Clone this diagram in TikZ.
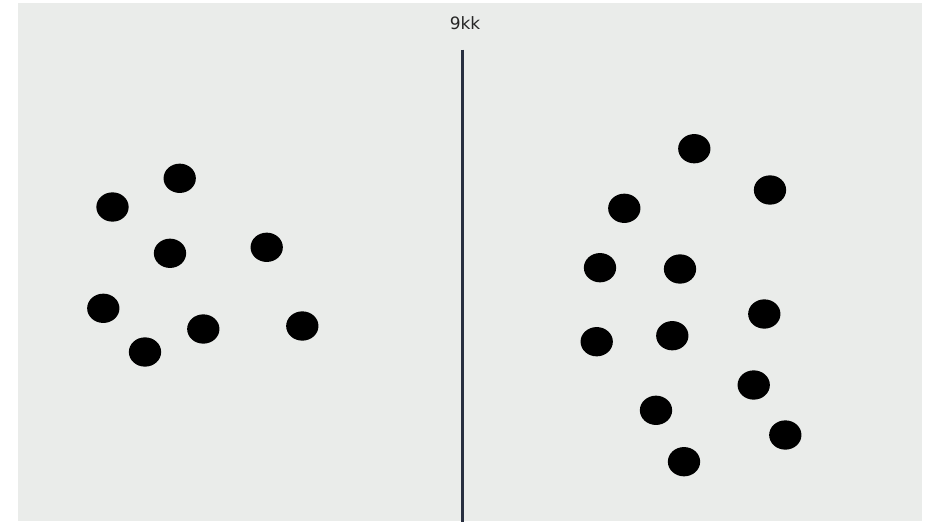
\documentclass[tikz,border=0pt]{standalone}
\usepackage{fontspec}
\setmainfont{DejaVu Sans}
\usetikzlibrary{shapes.geometric}
\definecolor{bgpanel}{RGB}{234,236,234}
\definecolor{divider}{RGB}{40,47,64}
\tikzset{
  dot/.style={ellipse, fill=black, minimum width=32.3pt, minimum height=29.3pt, inner sep=0pt},
  dividerline/.style={draw=divider, line width=3.4pt},
  title/.style={font=\fontsize{17}{20}\selectfont, text=black!85, inner sep=0pt}
}
\begin{document}
\begin{tikzpicture}[x=1pt,y=-1pt]
\useasboundingbox (0,0) rectangle (933,522);
\fill[bgpanel] (18,3) rectangle (922,521);
% divider
\coordinate (divtop) at (462.5,49.5);
\coordinate (divbot) at (462.5,522);
\draw[dividerline] (divtop) -- (divbot);
% title
\node[title, anchor=base] (lbl) at (465,29.3) {9kk};
% left group
\node[dot] (l1) at (179.7,178.3) {};
\node[dot] (l2) at (112.5,207) {};
\node[dot] (l3) at (170,253.3) {};
\node[dot] (l4) at (266.7,247.3) {};
\node[dot] (l5) at (103.3,308.3) {};
\node[dot] (l6) at (203.3,329) {};
\node[dot] (l7) at (145,352) {};
\node[dot] (l8) at (302.3,326) {};
% right group
\node[dot] (r1) at (694.3,148.7) {};
\node[dot] (r2) at (770,190) {};
\node[dot] (r3) at (624.3,208.3) {};
\node[dot] (r4) at (600,267.7) {};
\node[dot] (r5) at (680,269) {};
\node[dot] (r6) at (764.3,314) {};
\node[dot] (r7) at (596.7,341.7) {};
\node[dot] (r8) at (672.3,335.7) {};
\node[dot] (r9) at (753.7,385) {};
\node[dot] (r10) at (656,410.3) {};
\node[dot] (r11) at (785.3,435) {};
\node[dot] (r12) at (684,461.7) {};
\end{tikzpicture}
\end{document}
